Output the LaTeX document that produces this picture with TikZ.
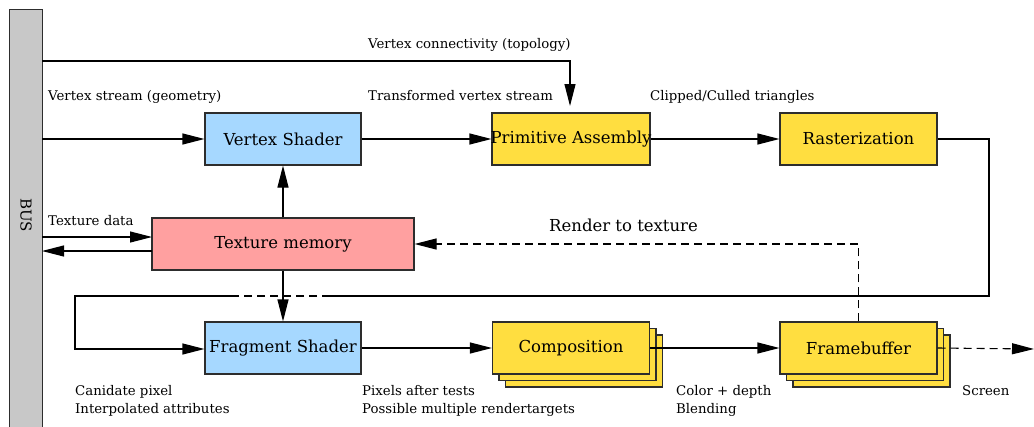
\documentclass[tikz,border=0pt]{standalone}
\usepackage{fontspec}
\setmainfont{DejaVu Serif}
\usetikzlibrary{arrows.meta,shadows}
\definecolor{vsblue}{RGB}{166,216,255}
\definecolor{pyellow}{RGB}{255,222,64}
\definecolor{tpink}{RGB}{255,160,160}
\definecolor{busgray}{RGB}{200,200,200}
\definecolor{edge}{RGB}{45,45,45}
\tikzset{
  box/.style={draw=edge, line width=1.1pt, rectangle, minimum width=156pt, minimum height=52pt, inner sep=0pt, font=\fontsize{16.5}{18}\selectfont},
  blue box/.style={box, fill=vsblue},
  yel box/.style={box, fill=pyellow},
  pink box/.style={box, fill=tpink, minimum width=262pt},
  stacked/.style={double copy shadow={shadow xshift=6.5pt, shadow yshift=-6.5pt, draw=edge, fill=pyellow}},
  conn/.style={line width=1.1pt, -{Triangle[length=22pt,width=11pt]}},
  plain/.style={line width=1.1pt},
  dashline/.style={line width=1.1pt, dash pattern=on 8pt off 5pt},
  lbl/.style={font=\fontsize{13.3}{18.5}\selectfont, inner sep=0pt, anchor=base west},
  biglbl/.style={font=\fontsize{16.5}{18}\selectfont, inner sep=0pt, anchor=base west},
}
\begin{document}
\begin{tikzpicture}[x=1pt,y=-1pt]
\useasboundingbox (0,0) rectangle (1034,426);
% bus
\node[draw=edge, line width=1.1pt, fill=busgray, minimum width=33pt, minimum height=430pt, inner sep=0pt, anchor=north west] (bus) at (9,9) {};
\node[rotate=-90, font=\fontsize{15}{17}\selectfont, inner sep=0pt] (buslbl) at (26,215) {BUS};
% boxes
\node[blue box] (vs) at (283,139) {Vertex Shader};
\node[yel box, minimum width=158pt] (pa) at (571,139) {\makebox[0pt]{Primitive Assembly}};
\node[yel box, minimum width=157pt] (ra) at (858.5,139) {Rasterization};
\node[pink box] (tm) at (283,244) {Texture memory};
\node[blue box] (fs) at (283,348) {Fragment Shader};
\node[yel box, minimum width=157pt, stacked] (co) at (571,348) {Composition};
\node[yel box, minimum width=157pt, stacked] (fb) at (858.5,348) {Framebuffer};
% coordinates
\coordinate (c1) at (42,61);
\coordinate (c2) at (570,61);
\coordinate (c3) at (570,106);
\coordinate (c4) at (42,139);
\coordinate (t1) at (42,237);
\coordinate (t2) at (152,237);
\coordinate (t3) at (152,251);
\coordinate (t4) at (42,251);
\coordinate (r1) at (989,139);
\coordinate (r2) at (989,296);
\coordinate (r3) at (330,296);
\coordinate (r4) at (232,296);
\coordinate (r5) at (75,296);
\coordinate (r6) at (75,349);
\coordinate (scr) at (1034,349);
% connectors
\draw[conn] (c1) -- (c2) -- (c3);
\draw[conn] (c4) -- (vs.west);
\draw[conn] (vs.east) -- (pa.west);
\draw[conn] (pa.east) -- (ra.west);
\draw[conn] (tm.north) -- (vs.south);
\draw[conn] (tm.south) -- (fs.north);
\draw[conn] (t1) -- (t2);
\draw[conn] (t3) -- (t4);
\draw[plain] (ra.east) -- (r1) -- (r2) -- (r3);
\draw[dashline] (r3) -- (r4);
\draw[conn] (r4) -- (r5) -- (r6) -- (fs.west |- r6);
\draw[conn] (fs.east) -- (co.west);
\draw[conn] (co.east) -- (fb.west);
\draw[dashline, -{Triangle[length=22pt,width=11pt]}] (fb.north) |- (tm.east);
\draw[dashline, -{Triangle[length=22pt,width=11pt]}] (fb.east) -- (scr);
% labels
\node[lbl] (l1) at (368,48) {Vertex connectivity (topology)};
\node[lbl] (l2) at (48,100) {Vertex stream (geometry)};
\node[lbl] (l3) at (368,100) {Transformed vertex stream};
\node[lbl] (l4) at (650,100) {Clipped/Culled triangles};
\node[lbl] (l5) at (48,225) {Texture data};
\node[biglbl] (l6) at (549,231) {Render to texture};
\node[lbl] (l7a) at (75,395) {Canidate pixel};
\node[lbl] (l7b) at (75,413.5) {Interpolated attributes};
\node[lbl] (l8a) at (362,395) {Pixels after tests};
\node[lbl] (l8b) at (362,413.5) {Possible multiple rendertargets};
\node[lbl] (l9a) at (676,395) {Color + depth};
\node[lbl] (l9b) at (676,413.5) {Blending};
\node[lbl] (l10) at (962,395) {Screen};
\end{tikzpicture}
\end{document}
